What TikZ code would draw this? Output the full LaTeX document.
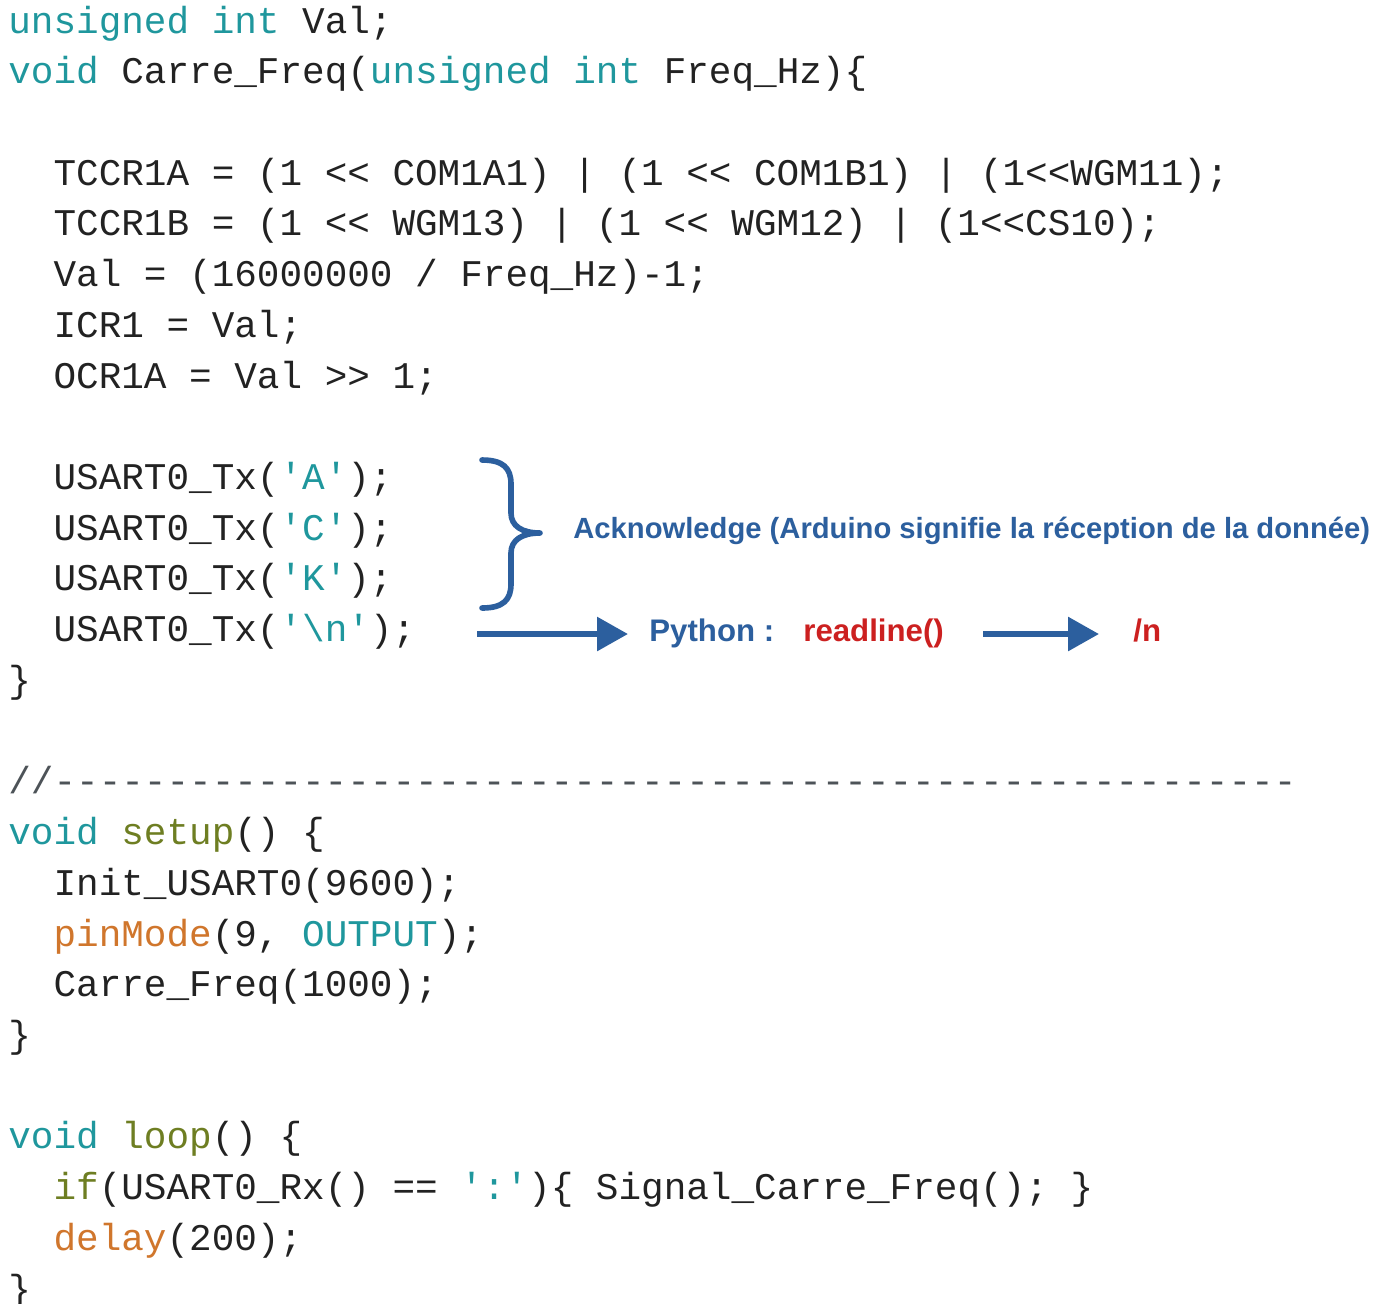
\documentclass[tikz,border=0pt]{standalone}
\usepackage{fontspec}
\setmonofont{Liberation Mono}
\newfontfamily\annotfont{Liberation Sans}
\usetikzlibrary{arrows.meta}
\definecolor{ink}{HTML}{222222}
\definecolor{kw}{HTML}{1F979D}
\definecolor{fn}{HTML}{6E7E22}
\definecolor{orng}{HTML}{D0762C}
\definecolor{cmt}{HTML}{4D5358}
\definecolor{note}{HTML}{2C5F9E}
\definecolor{alert}{HTML}{CC2020}
\newcommand{\KWc}[1]{\textcolor{kw}{#1}}
\newcommand{\FNc}[1]{\textcolor{fn}{#1}}
\newcommand{\ORc}[1]{\textcolor{orng}{#1}}
\tikzset{
  code/.style={anchor=base west, inner sep=0pt, text=ink,
    font=\fontsize{18.83pt}{20pt}\selectfont\ttfamily},
  ack/.style={anchor=base west, inner sep=0pt, text=note,
    font=\annotfont\bfseries\fontsize{14.6pt}{16pt}\selectfont},
  pyt/.style={anchor=base west, inner sep=0pt,
    font=\annotfont\bfseries\fontsize{15.6pt}{17pt}\selectfont},
  arr/.style={draw=note, line width=3pt, -{Triangle[length=15.5pt,width=16.5pt]}},
  bracestyle/.style={draw=note, line width=2.8pt, line cap=round, line join=round}
}
\begin{document}
\begin{tikzpicture}[x=0.5pt,y=-0.5pt]
\fill[white] (0,0) rectangle (1390,1303);
\useasboundingbox (0,0) rectangle (1390,1303);
% code lines, baseline = 33 + 50.72 k
\node[code] (c0)  at (8,33.0)     {\KWc{unsigned int} Val;};
\node[code] (c1)  at (8,83.7)     {\KWc{void} Carre\_Freq(\KWc{unsigned int} Freq\_Hz)\{};
\node[code] (c3)  at (53.2,185.2) {TCCR1A = (1 << COM1A1) | (1 << COM1B1) | (1<<WGM11);};
\node[code] (c4)  at (53.2,235.9) {TCCR1B = (1 << WGM13) | (1 << WGM12) | (1<<CS10);};
\node[code] (c5)  at (53.2,286.6) {Val = (16000000 / Freq\_Hz)-1;};
\node[code] (c6)  at (53.2,337.3) {ICR1 = Val;};
\node[code] (c7)  at (53.2,388.0) {OCR1A = Val >> 1;};
\node[code] (c9)  at (53.2,489.5) {USART0\_Tx(\KWc{'A'});};
\node[code] (c10) at (53.2,540.2) {USART0\_Tx(\KWc{'C'});};
\node[code] (c11) at (53.2,590.9) {USART0\_Tx(\KWc{'K'});};
\node[code] (c12) at (53.2,641.6) {USART0\_Tx(\KWc{'\textbackslash n'});};
\node[code] (c13) at (8,692.4)    {\}};
\node[code,text=cmt] (c15) at (8,793.8) {//-------------------------------------------------------};
\node[code] (c16) at (8,844.5)    {\KWc{void} \FNc{setup}() \{};
\node[code] (c17) at (53.2,895.2) {Init\_USART0(9600);};
\node[code] (c18) at (53.2,946.0) {\ORc{pinMode}(9, \KWc{OUTPUT});};
\node[code] (c19) at (53.2,996.7) {Carre\_Freq(1000);};
\node[code] (c20) at (8,1047.4)   {\}};
\node[code] (c22) at (8,1148.8)   {\KWc{void} \FNc{loop}() \{};
\node[code] (c23) at (53.2,1199.6){\FNc{if}(USART0\_Rx() == \KWc{':'})\{ Signal\_Carre\_Freq(); \}};
\node[code] (c24) at (53.2,1250.3){\ORc{delay}(200);};
\node[code] (c25) at (8,1301.0)   {\}};
% annotations
\draw[bracestyle] (482,460) .. controls (503,460) and (511,468) .. (511,484)
  -- (511,513) .. controls (511,526) and (522,533) .. (540,533)
  .. controls (522,533) and (511,540) .. (511,553)
  -- (511,584) .. controls (511,600) and (503,608) .. (482,608);
\node[ack] (ack) at (573,538) {Acknowledge (Arduino signifie la réception de la donnée)};
\node[pyt,text=note] (py) at (649,641) {Python :};
\node[pyt,text=alert] (rl) at (803,641) {readline()};
\node[pyt,text=alert] (nl) at (1133,641) {/n};
\coordinate (a1s) at (477,634);
\coordinate (a1e) at (628,634);
\coordinate (a2s) at (983,634);
\coordinate (a2e) at (1099,634);
\draw[arr] (a1s) -- (a1e);
\draw[arr] (a2s) -- (a2e);
\end{tikzpicture}
\end{document}
